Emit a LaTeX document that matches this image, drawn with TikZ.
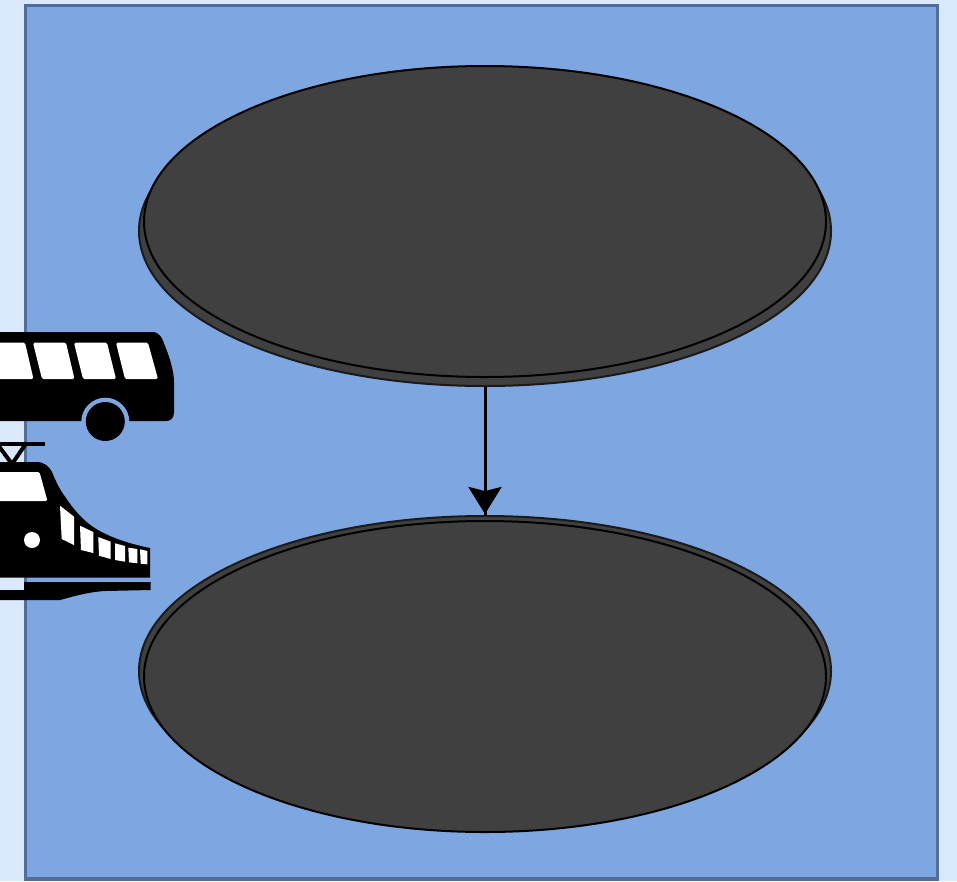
\documentclass[tikz,border=0pt]{standalone}
\usetikzlibrary{shapes.geometric,arrows.meta}
\definecolor{pagebg}{HTML}{DAE8FC}
\definecolor{panelfill}{HTML}{7EA6E0}
\definecolor{panelline}{HTML}{506D9C}
\definecolor{discfill}{HTML}{404040}
\definecolor{discedge}{HTML}{1A1A1A}
\tikzset{
  disc/.style={ellipse,draw=black,fill=discfill,line width=2pt,inner sep=0pt,outer sep=0pt,minimum width=682pt,minimum height=311pt},
  discshadow/.style={ellipse,draw=discedge,fill=discfill,line width=2pt,inner sep=0pt,outer sep=0pt,minimum width=692pt,minimum height=310pt},
  icon/.style={fill=black,draw=none},
  pane/.style={fill=white,draw=none,rounded corners=1.5pt},
  flow/.style={draw=black,line width=3pt}
}
\begin{document}
\begin{tikzpicture}[x=1pt,y=-1pt]
\useasboundingbox (0,0) rectangle (957,881);
\fill[pagebg] (0,0) rectangle (957,881);
\draw[panelline,fill=panelfill,line width=3.6pt] (25.5,5.5) rectangle (937.5,879);

% discs
\node[discshadow] (shadowA) at (485,231) {};
\node[discshadow] (shadowB) at (485,671) {};
\node[disc] (discA) at (485,221.5) {};
\node[disc] (discB) at (485,676.5) {};

% connector
\draw[flow] (shadowA.south) -- (shadowB.north);
\draw[flow,shorten >=2pt,-{Stealth[length=27pt,width=33pt,inset=4pt]}] (shadowA.south) -- (shadowB.north);

% bus
\fill[icon] (-10,332) -- (152,332) .. controls (160,332) and (162,338) .. (165,346)
  .. controls (170,358) and (174,372) .. (174,382) -- (174,412)
  .. controls (174,418) and (171,421) .. (166,421) -- (-10,421) -- cycle;
\fill[panelfill] (105.3,421.7) circle[radius=24];
\fill[panelfill] (81.3,421.7) rectangle (129.3,446);
\fill[icon] (105.3,421.5) circle[radius=19.5];
\fill[pane] (-10,342.7) -- (25,342.7) -- (33.5,379) -- (-10,379) -- cycle;
\fill[pane] (33,342.7) -- (66,342.7) -- (74.5,379) -- (42,379) -- cycle;
\fill[pane] (74,342.7) -- (107,342.7) -- (116,379) -- (83,379) -- cycle;
\fill[pane] (116,342.7) -- (148,342.7) -- (158,379) -- (125,379) -- cycle;

% train: pantograph
\draw[line width=4pt] (-5,444) -- (45,444);
\draw[line width=4pt] (-2,445) -- (12,464);
\draw[line width=4pt] (25,445) -- (12,464);
% train: body
\fill[icon] (-10,462) -- (36,462) .. controls (44,462) and (49,466) .. (52,472)
  .. controls (56,482) and (60,490) .. (66,498)
  .. controls (74,510) and (84,522) .. (98,530)
  .. controls (112,538) and (130,544) .. (150,548)
  -- (150,577.5) -- (-10,577.5) -- cycle;
\fill[pane] (-10,472) -- (39.5,472) -- (47.5,501) -- (-10,501) -- cycle;
\fill[white] (60,505.7) -- (74,516.7) -- (74,545) -- (61.7,539) -- cycle;
\fill[white] (80,525.7) -- (93.3,532) -- (93.3,553) -- (81,550) -- cycle;
\fill[white] (98.3,537) -- (110.7,541.7) -- (110.7,559) -- (99,555.7) -- cycle;
\fill[white] (115,543.3) -- (125,546) -- (125,561.7) -- (115,560) -- cycle;
\fill[white] (128.3,547.7) -- (137.3,549) -- (137.3,563.3) -- (129,562.3) -- cycle;
\fill[white] (140,549.3) -- (147.3,551) -- (147.3,564.3) -- (140.7,563.7) -- cycle;
\fill[white] (32,540) circle[radius=8];
% train: rail
\fill[icon] (24,582) -- (150.5,582) -- (150.5,590) -- (105,591)
  .. controls (88,592) and (75,596) .. (60,600) -- (-10,600) -- (-10,590) -- (24,590) -- cycle;
\end{tikzpicture}
\end{document}
